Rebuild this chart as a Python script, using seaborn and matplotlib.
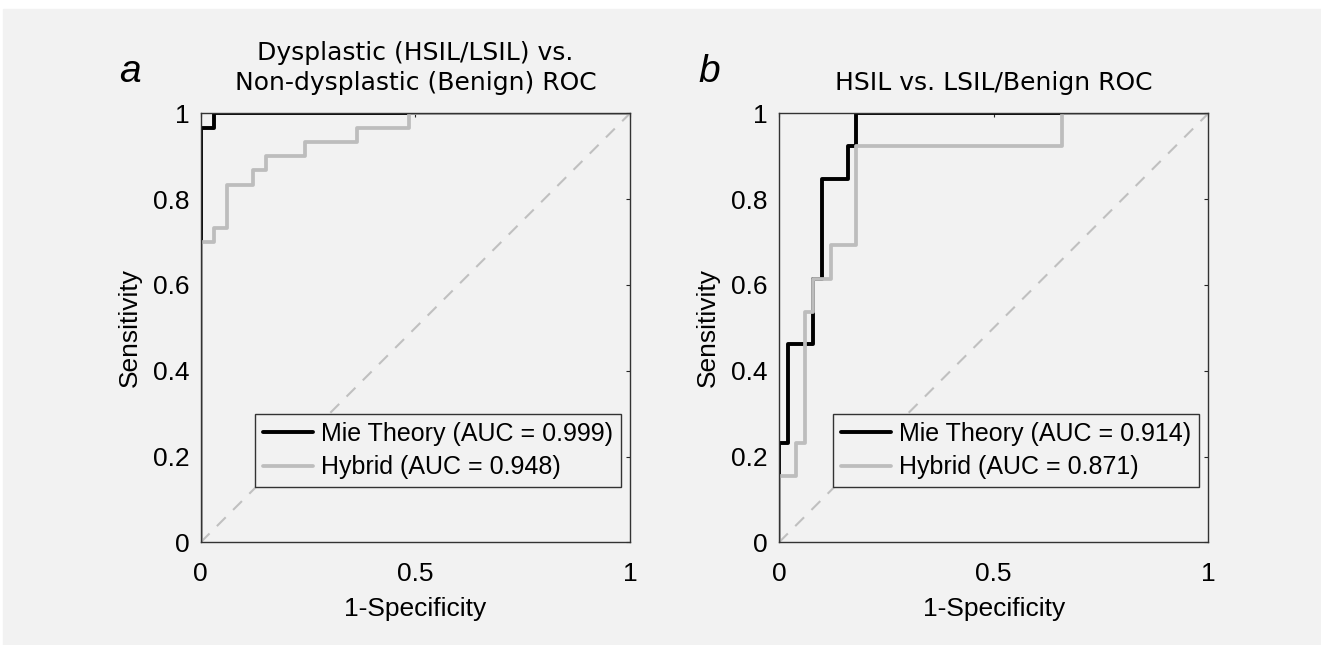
import numpy as np
import pandas as pd
import matplotlib
matplotlib.use("Agg")
import matplotlib.pyplot as plt
import seaborn as sns

# ----------------------------------------------------------------------
# ROC corner points (fpr, tpr); drawn as steps-post
# ----------------------------------------------------------------------
# panel a: dysplastic vs non-dysplastic
mie_a_fpr = [0.0, 0.0, 0.0303, 1.0]
mie_a_tpr = [0.0, 0.967, 1.0, 1.0]
hyb_a_fpr = [0.0, 0.0, 0.0303, 0.0606, 0.121, 0.152, 0.242, 0.364, 0.485, 1.0]
hyb_a_tpr = [0.0, 0.700, 0.733, 0.833, 0.867, 0.900, 0.933, 0.967, 1.0, 1.0]

# panel b: HSIL vs LSIL/benign
mie_b_fpr = [0.0, 0.0, 0.0, 0.02, 0.08, 0.10, 0.16, 0.18, 1.0]
mie_b_tpr = [0.0, 0.154, 0.231, 0.462, 0.615, 0.846, 0.923, 1.0, 1.0]
hyb_b_fpr = [0.0, 0.0, 0.04, 0.06, 0.08, 0.12, 0.18, 0.66, 1.0]
hyb_b_tpr = [0.0, 0.154, 0.231, 0.538, 0.615, 0.692, 0.923, 1.0, 1.0]

labels_a = ["Mie Theory (AUC = 0.999)", "Hybrid (AUC = 0.948)"]
labels_b = ["Mie Theory (AUC = 0.914)", "Hybrid (AUC = 0.871)"]
titles = ["Dysplastic (HSIL/LSIL) vs.\nNon-dysplastic (Benign) ROC",
          "HSIL vs. LSIL/Benign ROC"]
panel_letters = ["a", "b"]

BG = "#f2f2f2"
BLACK = "#000000"
GRAY = "#bdbdbd"

sns.set_style("white")
plt.rcParams["font.family"] = ["Liberation Sans", "DejaVu Sans"]
plt.rcParams["text.color"] = "black"
plt.rcParams["axes.labelcolor"] = "black"
plt.rcParams["xtick.color"] = "black"
plt.rcParams["ytick.color"] = "black"

fig = plt.figure(figsize=(13.21, 6.45), dpi=100, facecolor="white")
# grey page behind the plots (thin white strip on top/left)
fig.patches.append(plt.Rectangle((3 / 1321, -0.02), 1.02, 1.02 - 9 / 645,
                                 transform=fig.transFigure, color=BG, zorder=-10))

axes = [fig.add_axes([0.1519, 0.1592, 0.325, 0.665]),
        fig.add_axes([0.5897, 0.1592, 0.325, 0.665])]

panels = [
    (mie_a_fpr, mie_a_tpr, hyb_a_fpr, hyb_a_tpr, labels_a),
    (mie_b_fpr, mie_b_tpr, hyb_b_fpr, hyb_b_tpr, labels_b),
]

for i, (ax, (mf, mt, hf, ht, labs)) in enumerate(zip(axes, panels)):
    ax.set_facecolor(BG)
    # chance line
    ax.plot([0, 1], [0, 1], color="#c0c0c0", lw=1.5, ls=(0, (6, 5)), zorder=1)

    df_m = pd.DataFrame({"fpr": mf, "tpr": mt})
    df_h = pd.DataFrame({"fpr": hf, "tpr": ht})
    sns.lineplot(data=df_m, x="fpr", y="tpr", ax=ax, color=BLACK, lw=2.8,
                 estimator=None, sort=False, drawstyle="steps-post",
                 label=labs[0], zorder=2)
    sns.lineplot(data=df_h, x="fpr", y="tpr", ax=ax, color=GRAY, lw=2.7,
                 estimator=None, sort=False, drawstyle="steps-post",
                 label=labs[1], zorder=3)

    ax.set_xlim(0, 1)
    ax.set_ylim(0, 1)
    ax.set_xticks([0, 0.5, 1])
    ax.set_xticklabels(["0", "0.5", "1"])
    ax.set_yticks([0, 0.2, 0.4, 0.6, 0.8, 1])
    ax.set_yticklabels(["0", "0.2", "0.4", "0.6", "0.8", "1"])
    ax.tick_params(direction="in", length=3, width=0.8, color="#262626",
                   labelsize=19, top=True, right=True)
    ax.tick_params(axis="x", pad=14)
    ax.tick_params(axis="y", pad=8)
    for sp in ax.spines.values():
        sp.set_visible(True)
        sp.set_color("#333333")
        sp.set_linewidth(1.0)
        sp.set_zorder(5)

    ax.set_xlabel("1-Specificity", fontsize=19, labelpad=8)
    ax.set_ylabel("Sensitivity", fontsize=19, labelpad=8)
    ax.set_title(titles[i], fontsize=18, family="DejaVu Sans", pad=17,
                 linespacing=1.3)

    leg = ax.legend(loc="lower right", bbox_to_anchor=(0.978, 0.128),
                    borderaxespad=0, fontsize=18, frameon=True, fancybox=False,
                    handlelength=2.0, handletextpad=0.3, labelspacing=0.38,
                    borderpad=0.32)
    leg.get_frame().set_facecolor(BG)
    leg.get_frame().set_edgecolor("#333333")
    leg.get_frame().set_linewidth(1.0)
    leg.get_frame().set_alpha(1)

    # panel letter
    x_letter = [130 / 1321, 709 / 1321][i]
    fig.text(x_letter, 1 - 82 / 645, panel_letters[i], fontsize=28,
             style="italic", ha="center", va="baseline")

fig.savefig("out.png", dpi=100, facecolor=fig.get_facecolor())
